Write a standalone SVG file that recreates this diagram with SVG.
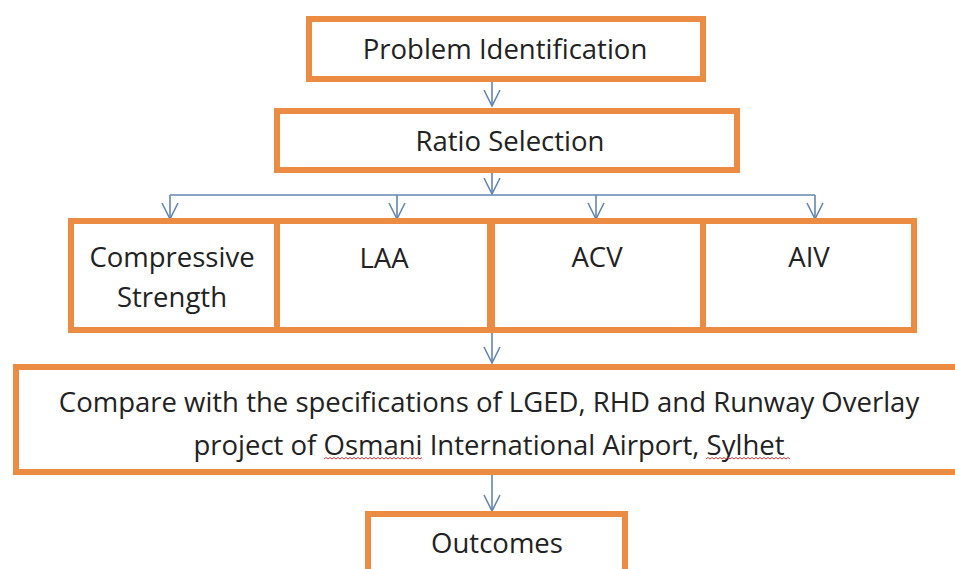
<svg xmlns="http://www.w3.org/2000/svg" width="955" height="569" viewBox="0 0 955 569">
  <defs>
    <style>
      .box { fill: #ffffff; stroke: #ec8b42; stroke-width: 6; }
      .lbl { font-family: "Open Sans", "Liberation Sans", sans-serif; font-size: 27.5px; fill: #222222; text-anchor: middle; }
      .conn { fill: none; stroke: #6286b2; stroke-width: 1.6; }
      .squig { fill: none; stroke: #d23c3c; stroke-width: 1; }
    </style>
    <marker id="vhead" viewBox="-18 -10 20 20" markerWidth="20" markerHeight="20" refX="0" refY="0" markerUnits="userSpaceOnUse" orient="auto" overflow="visible">
      <path d="M-16,-8 L0,0 L-16,8" fill="none" stroke="#6286b2" stroke-width="1.6"/>
    </marker>
  </defs>
  <rect width="955" height="569" fill="#ffffff"/>

  <g id="connectors">
    <line class="conn" x1="492" y1="82" x2="492" y2="106" marker-end="url(#vhead)"/>
    <line class="conn" x1="492" y1="173" x2="492" y2="194" marker-end="url(#vhead)"/>
    <line class="conn" x1="170" y1="195" x2="815" y2="195"/>
    <line class="conn" x1="170" y1="195" x2="170" y2="219" marker-end="url(#vhead)"/>
    <line class="conn" x1="397" y1="195" x2="397" y2="219" marker-end="url(#vhead)"/>
    <line class="conn" x1="596" y1="195" x2="596" y2="219" marker-end="url(#vhead)"/>
    <line class="conn" x1="815" y1="195" x2="815" y2="219" marker-end="url(#vhead)"/>
    <line class="conn" x1="492" y1="333" x2="492" y2="363" marker-end="url(#vhead)"/>
    <line class="conn" x1="492" y1="475" x2="492" y2="511" marker-end="url(#vhead)"/>
  </g>

  <g id="problem-identification">
    <rect class="box" x="309" y="19" width="394" height="60"/>
    <text class="lbl" x="505" y="59">Problem Identification</text>
  </g>

  <g id="ratio-selection">
    <rect class="box" x="277" y="111" width="460" height="59"/>
    <text class="lbl" x="510" y="151">Ratio Selection</text>
  </g>

  <g id="compressive-strength">
    <rect class="box" x="71" y="221" width="206" height="109"/>
    <text class="lbl" x="172" y="267">Compressive</text>
    <text class="lbl" x="172" y="307">Strength</text>
  </g>

  <g id="laa">
    <rect class="box" x="277" y="221" width="213" height="109"/>
    <text class="lbl" x="384" y="268">LAA</text>
  </g>

  <g id="acv">
    <rect class="box" x="492" y="221" width="211" height="109"/>
    <text class="lbl" x="597" y="267">ACV</text>
  </g>

  <g id="aiv">
    <rect class="box" x="703" y="221" width="211" height="109"/>
    <text class="lbl" x="809" y="267">AIV</text>
  </g>

  <g id="compare">
    <rect class="box" x="16" y="367" width="950" height="105"/>
    <text class="lbl" x="489" y="412">Compare with the specifications of LGED, RHD and Runway Overlay</text>
    <text class="lbl" x="489" y="455">project of Osmani International Airport, Sylhet</text>
    <path class="squig" d="M324,459 l2,-1.5 l2,1.5 l2,-1.5 l2,1.5 l2,-1.5 l2,1.5 l2,-1.5 l2,1.5 l2,-1.5 l2,1.5 l2,-1.5 l2,1.5 l2,-1.5 l2,1.5 l2,-1.5 l2,1.5 l2,-1.5 l2,1.5 l2,-1.5 l2,1.5 l2,-1.5 l2,1.5 l2,-1.5 l2,1.5 l2,-1.5 l2,1.5 l2,-1.5 l2,1.5 l2,-1.5 l2,1.5 l2,-1.5 l2,1.5 l2,-1.5 l2,1.5 l2,-1.5 l2,1.5 l2,-1.5 l2,1.5 l2,-1.5 l2,1.5 l2,-1.5 l2,1.5 l2,-1.5 l2,1.5 l2,-1.5 l2,1.5 l2,-1.5 l2,1.5 l2,-1.5"/>
    <path class="squig" d="M706,459 l2,-1.5 l2,1.5 l2,-1.5 l2,1.5 l2,-1.5 l2,1.5 l2,-1.5 l2,1.5 l2,-1.5 l2,1.5 l2,-1.5 l2,1.5 l2,-1.5 l2,1.5 l2,-1.5 l2,1.5 l2,-1.5 l2,1.5 l2,-1.5 l2,1.5 l2,-1.5 l2,1.5 l2,-1.5 l2,1.5 l2,-1.5 l2,1.5 l2,-1.5 l2,1.5 l2,-1.5 l2,1.5 l2,-1.5 l2,1.5 l2,-1.5 l2,1.5 l2,-1.5 l2,1.5 l2,-1.5 l2,1.5 l2,-1.5 l2,1.5 l2,-1.5 l2,1.5"/>
  </g>

  <g id="outcomes">
    <rect class="box" x="368" y="514" width="257" height="80"/>
    <text class="lbl" x="497" y="553">Outcomes</text>
  </g>
</svg>
